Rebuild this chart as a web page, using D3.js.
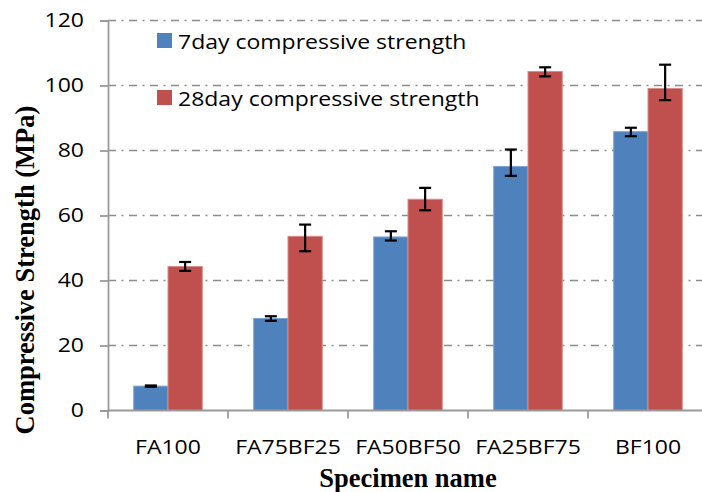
<!DOCTYPE html>
<html>
<head>
<meta charset="utf-8">
<script src="https://cdn.jsdelivr.net/npm/d3@7"></script>
<style>
  html, body { margin: 0; padding: 0; background: #fff; }
  svg { display: block; }
</style>
</head>
<body>
<svg id="chart" width="702" height="492"></svg>
<script>
// Specimen mixes and compressive strength results (MPa)
const categories = ["FA100", "FA75BF25", "FA50BF50", "FA25BF75", "BF100"];
const seriesNames = ["7day compressive strength", "28day compressive strength"];
const strength7 = [7.5, 28.3, 53.4, 75.1, 85.8];
const errorUp7 = [0.2, 0.7, 1.75, 5.2, 1.2];
const errorDown7 = [0.2, 0.7, 1.1, 2.9, 1.4];
const strength28 = [44.3, 53.6, 65.0, 104.3, 99.1];
const errorUp28 = [1.4, 3.6, 3.5, 1.3, 7.3];
const errorDown28 = [1.35, 4.6, 3.4, 1.5, 3.6];
const yTicks = [0, 20, 40, 60, 80, 100, 120];

const colors = ["#4F81BD", "#C0504D"];
const edges = ["#7FA3D3", "#D98C8A"];

const svg = d3.select("#chart");
const plotLeft = 108, plotRight = 708, plotTop = 20.5, plotBottom = 410.5;

const y = d3.scaleLinear().domain([0, 120]).range([plotBottom, plotTop]);
const x0 = d3.scaleBand().domain(categories).range([plotLeft, plotRight]).padding(0);
const x1 = d3.scaleBand().domain([0, 1]).range([0, x0.bandwidth()])
  .paddingInner(0).paddingOuter(0.75);

const labelFont = "'Open Sans', Lato, sans-serif";
const titleFont = "'Liberation Serif', 'Times New Roman', serif";
const widen = 1.15;

// widen label text horizontally about its anchor point
function stretch(sel) {
  sel.each(function () {
    const t = d3.select(this);
    const tx = +t.attr("x") || 0;
    const ty = +t.attr("y") || 0;
    t.attr("x", 0).attr("y", 0)
      .attr("transform", `translate(${tx},${ty}) scale(${widen},1)`);
  });
}

// dash-dot gridlines
svg.append("g")
  .selectAll("line")
  .data(yTicks.filter(d => d > 0))
  .join("line")
  .attr("x1", plotLeft).attr("x2", 702)
  .attr("y1", d => y(d)).attr("y2", d => y(d))
  .attr("stroke", "#8c8c8c")
  .attr("stroke-width", 1.5)
  .attr("stroke-dasharray", "8,5.5,2,5.5");

// bars
const series = [
  { values: strength7, up: errorUp7, down: errorDown7 },
  { values: strength28, up: errorUp28, down: errorDown28 }
];

const bars = svg.append("g");
series.forEach((s, si) => {
  bars.append("g")
    .selectAll("rect")
    .data(categories.map((c, i) => ({ c, v: s.values[i] })))
    .join("rect")
    .attr("x", d => x0(d.c) + x1(si))
    .attr("y", d => y(d.v))
    .attr("width", x1.bandwidth())
    .attr("height", d => y(0) - y(d.v))
    .attr("fill", colors[si])
    .attr("stroke", edges[si])
    .attr("stroke-width", 1);
});

// error bars (upper and lower extents)
const errG = svg.append("g").attr("stroke", "#000").attr("stroke-width", 2.2);
series.forEach((s, si) => {
  categories.forEach((c, i) => {
    const cx = x0(c) + x1(si) + x1.bandwidth() / 2;
    const hi = y(s.values[i] + s.up[i]);
    const lo = y(s.values[i] - s.down[i]);
    errG.append("line").attr("x1", cx).attr("x2", cx).attr("y1", hi).attr("y2", lo);
    errG.append("line").attr("x1", cx - 6).attr("x2", cx + 6).attr("y1", hi).attr("y2", hi);
    errG.append("line").attr("x1", cx - 6).attr("x2", cx + 6).attr("y1", lo).attr("y2", lo);
  });
});

// y axis
const yAxis = svg.append("g")
  .attr("transform", `translate(${plotLeft},0)`)
  .call(d3.axisLeft(y).tickValues(yTicks).tickSize(8).tickPadding(16));
yAxis.select(".domain").attr("stroke", "#9a9a9a").attr("stroke-width", 1.8);
yAxis.selectAll(".tick line").attr("stroke", "#9a9a9a").attr("stroke-width", 1.8);
yAxis.selectAll(".tick text")
  .attr("font-family", labelFont).attr("font-size", 20).attr("fill", "#000")
  .call(stretch);

// x axis with ticks on category boundaries
const xAxisG = svg.append("g").attr("transform", `translate(0,${plotBottom})`);
xAxisG.append("line").attr("x1", plotLeft).attr("x2", plotRight)
  .attr("stroke", "#9a9a9a").attr("stroke-width", 1.8);
xAxisG.selectAll("line.tk")
  .data(categories)
  .join("line").attr("class", "tk")
  .attr("x1", d => x0(d)).attr("x2", d => x0(d))
  .attr("y1", 0).attr("y2", 8)
  .attr("stroke", "#9a9a9a").attr("stroke-width", 1.8);
xAxisG.selectAll("text")
  .data(categories)
  .join("text")
  .attr("x", d => x0(d) + x0.bandwidth() / 2)
  .attr("y", 43)
  .attr("text-anchor", "middle")
  .attr("font-family", labelFont).attr("font-size", 20)
  .text(d => d)
  .call(stretch);

// legend
const legend = svg.append("g");
seriesNames.forEach((name, i) => {
  const ly = 33 + i * 57;
  legend.append("rect").attr("x", 157).attr("y", ly).attr("width", 15).attr("height", 15)
    .attr("fill", colors[i]);
  legend.append("text").attr("x", 178).attr("y", ly + 15.5)
    .attr("font-family", labelFont).attr("font-size", 20).text(name)
    .call(stretch);
});

// axis titles
svg.append("text")
  .attr("x", 408).attr("y", 487)
  .attr("text-anchor", "middle")
  .attr("font-family", titleFont).attr("font-weight", "bold").attr("font-size", 26.5)
  .text("Specimen name");

svg.append("text")
  .attr("transform", "translate(34,270) rotate(-90)")
  .attr("text-anchor", "middle")
  .attr("font-family", titleFont).attr("font-weight", "bold").attr("font-size", 26.5)
  .text("Compressive Strength (MPa)");
</script>
</body>
</html>
